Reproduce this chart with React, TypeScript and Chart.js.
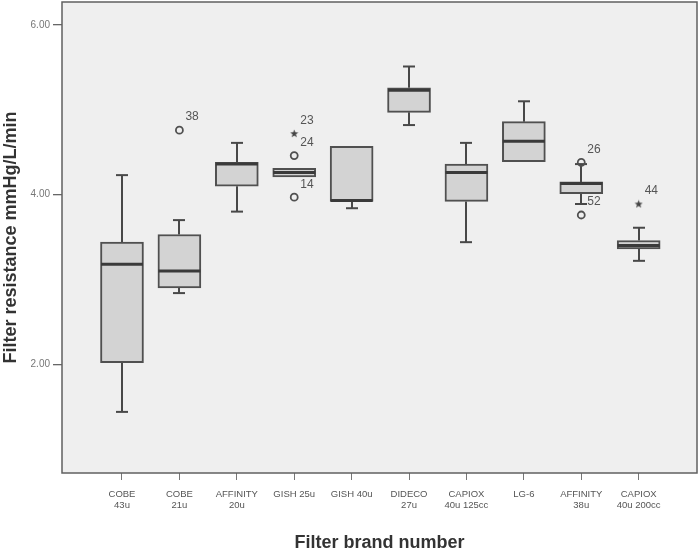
import React, { useEffect, useRef } from "react";
import { Chart, registerables } from "chart.js";

Chart.register(...registerables);

// ---- data ----
const categories: string[][] = [
  ["COBE", "43u"],
  ["COBE", "21u"],
  ["AFFINITY", "20u"],
  ["GISH 25u"],
  ["GISH 40u"],
  ["DIDECO", "27u"],
  ["CAPIOX", "40u 125cc"],
  ["LG-6"],
  ["AFFINITY", "38u"],
  ["CAPIOX", "40u 200cc"],
];
const whiskerLow = [1.44, 2.84, 3.8, 4.21, 3.84, 4.82, 3.44, 4.39, 3.89, 3.22];
const q1 = [2.02, 2.9, 4.1, 4.21, 3.92, 4.97, 3.92, 4.39, 4.01, 3.36];
const median = [3.18, 3.1, 4.36, 4.26, 3.93, 5.23, 4.26, 4.63, 4.13, 3.4];
const q3 = [3.44, 3.53, 4.38, 4.31, 4.57, 5.26, 4.36, 4.86, 4.15, 3.46];
const whiskerHigh = [4.23, 3.7, 4.61, 4.31, 4.57, 5.51, 4.61, 5.1, 4.36, 3.61];

const outlierCategory = [2, 4, 4, 4, 9, 9, 10];
const outlierValue = [4.76, 4.72, 4.46, 3.97, 4.38, 3.76, 3.89];
const outlierId = ["38", "23", "24", "14", "26", "52", "44"];
const outlierKind = ["o", "*", "o", "o", "o", "o", "*"];

const yTicks = [2, 4, 6];
const xTitle = "Filter brand number";
const yTitle = "Filter resistance mmHg/L/min";

function makeStar(): HTMLCanvasElement {
  const c = document.createElement("canvas");
  c.width = 9;
  c.height = 9;
  const g = c.getContext("2d")!;
  g.fillStyle = "#444";
  g.beginPath();
  for (let i = 0; i < 10; i++) {
    const r = i % 2 === 0 ? 4.3 : 1.8;
    const a = -Math.PI / 2 + (i * Math.PI) / 5;
    const px = 4.5 + r * Math.cos(a);
    const py = 4.8 + r * Math.sin(a);
    if (i === 0) g.moveTo(px, py);
    else g.lineTo(px, py);
  }
  g.closePath();
  g.fill();
  return c;
}

const boxExtras = {
  id: "boxExtras",
  beforeDraw(chart: any) {
    const { ctx, chartArea: a } = chart;
    ctx.save();
    ctx.fillStyle = "#efefef";
    ctx.fillRect(a.left, a.top, a.right - a.left, a.bottom - a.top);
    ctx.restore();
  },
  beforeDatasetsDraw(chart: any) {
    const { ctx } = chart;
    const xs = chart.scales.x;
    const ys = chart.scales.y;
    ctx.save();
    ctx.strokeStyle = "#484848";
    ctx.lineWidth = 2;
    const capHalf = 6;
    for (let i = 0; i < q1.length; i++) {
      const cx = Math.round(xs.getPixelForValue(i + 1));
      const segs = [
        [q3[i], whiskerHigh[i]],
        [q1[i], whiskerLow[i]],
      ];
      for (const [from, to] of segs) {
        if (Math.abs(from - to) < 1e-6) continue;
        const y0 = ys.getPixelForValue(from);
        const y1 = ys.getPixelForValue(to);
        ctx.beginPath();
        ctx.moveTo(cx, y0);
        ctx.lineTo(cx, y1);
        ctx.stroke();
        ctx.beginPath();
        ctx.moveTo(cx - capHalf, y1);
        ctx.lineTo(cx + capHalf, y1);
        ctx.stroke();
      }
    }
    ctx.restore();
  },
  afterDatasetsDraw(chart: any) {
    const { ctx } = chart;
    const xs = chart.scales.x;
    const ys = chart.scales.y;
    ctx.save();
    ctx.strokeStyle = "#3a3a3a";
    ctx.lineWidth = 3;
    const half = 21;
    for (let i = 0; i < median.length; i++) {
      const cx = xs.getPixelForValue(i + 1);
      const y = ys.getPixelForValue(median[i]);
      ctx.beginPath();
      ctx.moveTo(cx - half, y);
      ctx.lineTo(cx + half, y);
      ctx.stroke();
    }
    ctx.fillStyle = "#555";
    ctx.font = "12px 'Liberation Sans Narrow', 'Liberation Sans', Arial, sans-serif";
    ctx.textAlign = "left";
    ctx.textBaseline = "middle";
    for (let k = 0; k < outlierId.length; k++) {
      const px = xs.getPixelForValue(outlierCategory[k]);
      const py = ys.getPixelForValue(outlierValue[k]);
      ctx.fillText(outlierId[k], px + 6, py - 13);
    }
    ctx.restore();
  },
  afterDraw(chart: any) {
    const { ctx, chartArea: a } = chart;
    ctx.save();
    ctx.strokeStyle = "#606060";
    ctx.lineWidth = 1.5;
    ctx.strokeRect(a.left, a.top, a.right - a.left, a.bottom - a.top);
    ctx.restore();
  },
};

export default function App() {
  const ref = useRef<HTMLCanvasElement | null>(null);

  useEffect(() => {
    document.body.style.margin = "0";
    const star = makeStar();
    const circleIdx = outlierKind.map((k, i) => (k === "o" ? i : -1)).filter((i) => i >= 0);
    const starIdx = outlierKind.map((k, i) => (k === "*" ? i : -1)).filter((i) => i >= 0);

    const chart = new Chart(ref.current!, {
      type: "bar",
      data: {
        datasets: [
          {
            type: "bar",
            data: q1.map((v, i) => ({ x: i + 1, y: [v, q3[i]] })) as any,
            backgroundColor: "#d3d3d3",
            borderColor: "#505050",
            borderWidth: 2,
            borderSkipped: false,
            barThickness: 43,
            grouped: false,
          } as any,
          {
            type: "scatter",
            data: circleIdx.map((k) => ({ x: outlierCategory[k], y: outlierValue[k] })),
            pointStyle: "circle",
            pointRadius: 3.5,
            pointBorderWidth: 1.8,
            pointBorderColor: "#505050",
            pointBackgroundColor: "rgba(0,0,0,0)",
          } as any,
          {
            type: "scatter",
            data: starIdx.map((k) => ({ x: outlierCategory[k], y: outlierValue[k] })),
            pointStyle: star,
            pointRadius: 4,
          } as any,
        ],
      },
      options: {
        responsive: false,
        animation: false,
        devicePixelRatio: 1,
        layout: { autoPadding: false, padding: { top: 2, right: 3, left: 0, bottom: 0 } },
        plugins: { legend: { display: false }, tooltip: { enabled: false } },
        scales: {
          x: {
            type: "linear",
            offset: false,
            min: -0.045,
            max: 11.016,
            afterBuildTicks: (s: any) => {
              s.ticks = categories.map((_, i) => ({ value: i + 1 }));
            },
            afterFit: (s: any) => {
              s.height = 81;
              s.paddingLeft = 0;
              s.paddingRight = 0;
            },
            grid: {
              drawOnChartArea: false,
              offset: false,
              tickLength: 7,
              color: "#777",
              lineWidth: 1,
            },
            border: { display: false },
            ticks: {
              autoSkip: false,
              maxRotation: 0,
              padding: 9,
              color: "#555",
              font: { size: 9.5, family: "'Liberation Sans', Arial, sans-serif", lineHeight: 1.15 },
              callback: (v: any) => {
                const c = categories[Math.round(v) - 1];
                return c ? c : "";
              },
            },
            title: {
              display: true,
              text: xTitle,
              color: "#333",
              font: { size: 18, weight: "bold", family: "'Liberation Sans', Arial, sans-serif" },
              padding: { top: 0, bottom: 0 },
            },
          } as any,
          y: {
            type: "linear",
            min: 0.72,
            max: 6.27,
            afterBuildTicks: (s: any) => {
              s.ticks = yTicks.map((v) => ({ value: v }));
            },
            afterFit: (s: any) => {
              s.width = 62;
              s.paddingTop = 0;
              s.paddingBottom = 0;
            },
            grid: {
              drawOnChartArea: false,
              tickLength: 9,
              color: "#666",
              lineWidth: 1.3,
            },
            border: { display: false },
            ticks: {
              padding: 3,
              color: "#777",
              font: { size: 10, family: "'Liberation Sans', Arial, sans-serif" },
              callback: (v: any) => Number(v).toFixed(2),
            },
            title: {
              display: true,
              text: yTitle,
              color: "#333",
              font: { size: 18, weight: "bold", family: "'Liberation Sans', Arial, sans-serif" },
              padding: { top: 0, bottom: 0 },
            },
          } as any,
        },
      },
      plugins: [boxExtras],
    });
    return () => chart.destroy();
  }, []);

  return (
    <div style={{ width: 700, height: 554 }}>
      <canvas ref={ref} width={700} height={554} style={{ display: "block" }} />
    </div>
  );
}
